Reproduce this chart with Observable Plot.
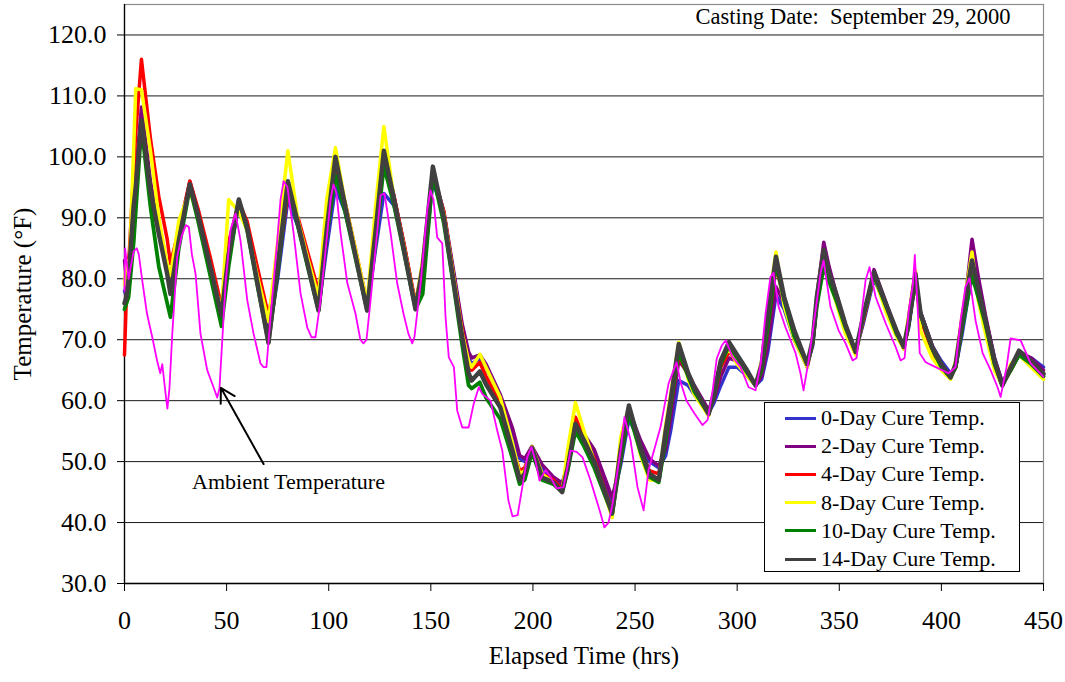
<!DOCTYPE html>
<html>
<head>
<meta charset="utf-8">
<script src="https://cdn.jsdelivr.net/npm/d3@7"></script>
<script src="https://cdn.jsdelivr.net/npm/@observablehq/plot@0.6"></script>
<style>
  body { margin: 0; background: #fff; }
  #wrap { position: relative; width: 1065px; height: 682px; font-family: "Liberation Serif", "Times New Roman", serif; color: #000; }
  #legend { position: absolute; left: 764px; top: 402px; width: 256px; height: 170px; border: 1px solid #000; background: #fff; box-sizing: border-box; padding-top: 1px; }
  .row { display: flex; align-items: center; height: 28.2px; font-size: 22px; white-space: nowrap; }
  .sw { width: 31px; height: 3px; margin-left: 20px; margin-right: 5px; }
</style>
</head>
<body>
<div id="wrap"><div id="legend"></div></div>
<script>
// ---- Data ----
const hours = [
  0, 1, 2, 4.5, 5.5, 8.3, 12.7, 16.8, 20.9, 22.5,
  26.6, 32, 36, 42, 47.5, 51, 56, 60, 65, 70.5,
  75, 80, 85, 90, 95, 99, 103.3, 108, 113, 118.8,
  123, 127, 132, 137, 142.5, 146, 151, 156.4, 161.3, 165.4,
  168.5, 170, 174, 177, 184, 190, 193.5, 196, 199.5, 204.5,
  210, 214.3, 217, 220.8, 225, 230, 238.8, 243, 247, 252.7,
  257, 261.6, 265, 267.4, 271.4, 276, 279, 286, 288.5, 292,
  296, 300, 305, 309, 312, 315, 319, 323, 328, 334.3,
  337, 339, 342.4, 345, 349, 353, 358, 362, 367, 373.5,
  378, 381.6, 384, 387.3, 389.8, 395.5, 400, 404.5, 407, 410.2,
  415, 418, 421.6, 426, 429.8, 434, 438, 444, 450
];
const cure0 = [
  78, 77, 79, 90, 95, 106, 95, 88, 81, 78.5,
  86, 95.5, 91, 82.5, 74.5, 83, 92.5, 88.5, 80, 70.5,
  80, 93, 88.5, 82, 75, 85, 95, 91, 84, 75,
  85, 94, 92, 85, 75.5, 80, 96, 90.5, 80.5, 72,
  67, 66, 67, 65.5, 60.5, 54.5, 50.5, 50, 52, 49,
  47, 46, 49, 56, 54, 51.5, 43.5, 49.5, 57, 53,
  50, 49, 51, 55, 63.3, 62.5, 61, 58, 59.5, 62.5,
  65.5, 65.5, 64, 62.5, 63.5, 68, 77.3, 75, 70, 66,
  69, 76, 83.5, 80.5, 76.5, 72, 68, 73, 80, 75,
  71.5, 69, 72, 79.5, 74.5, 69, 66.5, 64.5, 65.5, 71,
  81, 78, 73.5, 67, 63, 65, 67.5, 67, 65.5
];
const cure2 = [
  83, 80, 82, 93, 97, 108.2, 96, 88.5, 81.5, 79,
  87, 96, 91, 82.5, 74.5, 83, 92.5, 88.5, 80, 70.5,
  81, 95.5, 89.5, 82.5, 75, 87, 99, 92.5, 84.5, 75,
  87, 100.5, 93.5, 85.5, 75.5, 81, 97.5, 91, 81, 72.5,
  68, 67, 67.5, 66, 61, 55.5, 51, 50.5, 52.5, 49.5,
  47.5, 46.5, 49.5, 56.5, 54.5, 52, 44.1, 50, 58.5, 53.5,
  50.5, 49.3, 52, 57, 66.6, 64.5, 62.5, 58.5, 60, 64,
  67, 66.5, 64.5, 62.5, 64, 69, 78.7, 76, 70, 65.5,
  69.5, 77, 86, 82, 77, 72.5, 68, 73.5, 81.5, 75.5,
  71.5, 68.8, 72.5, 80, 74.5, 69, 66, 64, 65.5, 72,
  86.5, 80.5, 74, 67, 63, 65.5, 68, 67, 65
];
const cure4 = [
  67.5, 78, 82, 98, 104, 116, 103, 93.5, 86.5, 82.5,
  88, 96, 91.5, 83.5, 75.5, 86, 92.5, 89.5, 82, 74,
  82, 94, 90, 84, 78, 87, 97.8, 92.5, 85, 76,
  87, 100, 93.5, 85.5, 76, 82, 97, 91, 80, 71.5,
  66, 65, 66.3, 64, 59.5, 52.5, 48.5, 49, 52, 48,
  47, 45.5, 50, 57.3, 54, 50.5, 42, 51, 58, 52,
  48.5, 48, 54, 59, 67.5, 64, 61.5, 58, 60.5, 65.5,
  68, 66.5, 64.5, 62.5, 65, 72, 82, 76.5, 71, 66,
  69.5, 76, 84, 80.5, 76, 72, 68, 73.5, 80.5, 74.5,
  71, 68.5, 72.5, 80, 73.5, 68, 65.5, 63.8, 65.5, 72.5,
  81.5, 77.5, 72.5, 66, 62.5, 65, 67.5, 66, 64
];
const cure8 = [
  79, 83, 78, 101.6, 111.2, 111, 101, 90, 82.5, 80.5,
  89.5, 94.5, 90, 82, 74.5, 93, 91, 88, 80.5, 73,
  86, 101, 89.5, 83, 77, 93, 101.5, 92.5, 85, 76,
  92, 105, 93, 85, 75.5, 83, 97.5, 90.5, 80, 71,
  66.5, 65.5, 67.6, 65.5, 60.5, 53, 48, 48.5, 52.5, 48,
  46.5, 45, 52, 59.7, 55, 50, 40.8, 54, 59, 51,
  47, 47, 56, 61, 69.6, 63.5, 61, 57.5, 61.5, 66.5,
  68.5, 66, 64, 62.5, 66.5, 75, 84.4, 75.5, 70, 65.5,
  70, 77, 84.7, 80, 75.5, 71, 67.5, 74, 80.5, 74,
  70.5, 68.5, 74, 81.4, 71.5, 67, 65, 63.5, 66.5, 74,
  84.4, 76.5, 71, 65, 62.5, 66, 67.5, 65.5, 63.5
];
const cure10 = [
  75, 76, 77, 86, 91, 105, 91.8, 82, 76, 73.7,
  85, 95, 89.5, 80.5, 72.2, 82, 93, 88, 79, 69.5,
  81, 95.5, 88.5, 81.5, 74.8, 87, 97, 91, 83.5, 74.8,
  86, 98.5, 92, 84, 75, 77.5, 97, 89, 78.5, 69,
  62.5, 62, 63, 60.5, 57, 50.5, 46.3, 47, 51.5, 47,
  46.3, 45, 48.5, 55, 52.5, 49, 41.4, 50.5, 58, 51.5,
  47.5, 46.6, 53.5, 59, 68, 64, 61.5, 57.8, 60.5, 66,
  69, 67, 64.5, 62.5, 65, 72, 82.5, 76.5, 70.5, 66,
  69.5, 75.5, 82, 79.5, 76, 72, 68, 74, 80.5, 75,
  71, 68.8, 72.5, 80, 74, 68.5, 65.5, 63.8, 65.5, 72,
  80.5, 77, 72.5, 66, 62.5, 65, 67.5, 66, 64
];
const cure14 = [
  76, 77, 80, 92, 95, 106, 94.5, 87.4, 80.8, 77.5,
  86.3, 95.5, 90.5, 82, 74, 84, 93, 88.5, 79.5, 69.5,
  82, 96, 89, 82, 74.8, 88, 100, 92, 84, 74.8,
  88, 101, 93, 84.5, 75, 82, 98.4, 90, 79.2, 70.4,
  64.5, 63.3, 64.8, 62.7, 58.9, 51.8, 47, 48, 52.3, 47.4,
  46.6, 45, 49, 56.2, 53.5, 50, 41.6, 52, 59.2, 52.3,
  48, 47, 55, 60, 69.3, 64.5, 62.2, 57.8, 61, 66.6,
  69.6, 67.5, 64.9, 62.5, 66, 74, 83.6, 77, 71.5, 66,
  70, 77, 84.7, 81, 77, 72.5, 68, 74.3, 81.1, 75.3,
  71.5, 68.8, 73, 80.8, 74.3, 68.8, 66, 63.8, 66, 73.2,
  83, 78.5, 73.2, 66.5, 62.5, 65.5, 68.2, 66.5, 64.4
];
const ambientHours = [
  0, 0.3, 2, 4.5, 6, 7, 8.7, 11, 13.6, 16, 17.5, 18.5, 20, 21, 22, 23.4, 25.8, 28, 30, 31.5,
  33, 34.8, 37.2, 40.5, 43.6, 45.4, 46.5, 49.5, 51.9, 54.4, 56.8, 60.1, 63.2, 66.6, 68.1, 69.5, 71.5, 74.8, 76.4, 77.9,
  79.8, 82.8, 86.2, 89.5, 91.6, 93.5, 96, 99.3, 100.9, 102.3, 103.8, 105.8, 109.1, 113.1, 115.5, 117, 118.5, 120.5, 123.7, 125.4,
  127.3, 130.3, 133.5, 136.6, 139, 140.9, 142, 145, 148.2, 149.8, 151.3, 153.1, 155.6, 157.2, 158.8, 161.3, 162.9, 165.4, 168.5, 171,
  173.5, 175.2, 179.2, 182.5, 185, 188, 190, 192.5, 197.2, 199.3, 201.3, 203.2, 206.2, 208.6, 211.5, 215, 218.4, 221.4, 224.3, 228.2,
  233.1, 235, 237, 239, 242.9, 244.8, 247.8, 251.2, 254.2, 256.6, 262.5, 266.4, 270.3, 272.3, 275.2, 279.1, 283, 285.5, 288, 290,
  292.4, 294.4, 297.7, 301.7, 305.6, 309, 311.5, 313.9, 316.3, 317.8, 320.3, 323.7, 328.6, 331, 332.5, 335, 338.4, 340.8, 342.3, 345.7,
  349.7, 353.1, 356.5, 358.5, 360.4, 362.9, 364.8, 367.8, 372.7, 377.6, 380, 382, 384, 386, 387, 388.5, 389.4, 392.3, 397.2, 403.5,
  406.9, 409.4, 411.8, 413.8, 416.7, 420.2, 424.1, 427.5, 429, 431.9, 433.9, 438.8, 443.7, 450
];
const ambientTemp = [
  78, 85, 80, 84.5, 85, 84, 79.7, 74.3, 70.4, 66.5, 64.5, 66, 61.5, 58.7, 62, 71, 83.6, 87, 88.8, 88.5,
  84, 80.8, 71, 65, 62.2, 60.5, 62, 79.3, 88, 90.7, 86.3, 76.5, 71, 66.1, 65.5, 65.5, 73.7, 86.3, 93, 96,
  95, 87.5, 77.6, 72, 70.4, 70.4, 76.5, 87.5, 93, 95.5, 94, 87.5, 79.3, 74.3, 70, 69.4, 70, 76.5, 87.5, 93.7,
  94, 87.5, 79.3, 74.3, 71, 69.4, 70.5, 79.3, 91.2, 94.5, 93, 86.8, 85.8, 73.7, 67.1, 65.5, 58.4, 55.6, 55.6, 59.5,
  62.2, 61.1, 60, 55.1, 51.8, 43.6, 41, 41.2, 50.7, 52.4, 50, 46.9, 48.6, 47.5, 45.6, 45.8, 51.8, 51.6, 50.7, 46.9,
  41.5, 39.2, 40, 43.1, 51.8, 57.3, 53.5, 45.8, 42, 48.6, 55.7, 62.8, 66.3, 63, 60, 57.9, 56, 56.8, 61.7, 66.9,
  69, 69.9, 67.2, 65.5, 62.2, 61.7, 66, 74.3, 80.3, 81, 75.4, 72, 67.8, 64.5, 61.7, 66.6, 74.8, 80.9, 83, 75.4,
  71.5, 69.4, 66.6, 67, 72.7, 79.8, 81.9, 77, 72.7, 68.8, 66.6, 67, 74.8, 79, 83.9, 74.3, 67.8, 66.3, 65.5, 64.5,
  65.5, 73.2, 78.7, 80.1, 73.2, 67.8, 65, 62.2, 60.6, 65.5, 70.2, 69.9, 66.1, 63.9
];
const seriesNames = ["0-Day Cure Temp.", "2-Day Cure Temp.", "4-Day Cure Temp.", "8-Day Cure Temp.", "10-Day Cure Temp.", "14-Day Cure Temp."];
const seriesValues = [cure0, cure2, cure4, cure8, cure10, cure14];
const seriesColors = ["#3333cc", "#800080", "#ff0000", "#ffff00", "#008000", "#404040"];
const ambientColor = "#ff00ff";
const xTicks = [0, 50, 100, 150, 200, 250, 300, 350, 400, 450];
const yTicks = [30, 40, 50, 60, 70, 80, 90, 100, 110, 120];
const annotationText = ["Ambient Temperature"];
const annotationTextAt = [80.3, 46.7];      // hours, °F
const annotationArrow = [[68.1, 49.6, 47.2, 62.1]]; // from (h,°F) to (h,°F)
const castingNote = "Casting Date:  September 29, 2000";

// ---- Build tables ----
const cureRows = seriesNames.map((name, k) =>
  hours.map((h, i) => ({hours: h, temp: seriesValues[k][i], series: name}))
       .filter(d => d.temp !== undefined));
const ambientRows = ambientHours.map((h, i) => ({hours: h, temp: ambientTemp[i]})).filter(d => d.temp !== undefined);

const font = "Liberation Serif, Times New Roman, serif";
const cureWidths = [3.5, 3.5, 3.5, 3.5, 3.8, 4.5];

const chart = Plot.plot({
  width: 1065,
  height: 682,
  marginLeft: 124,
  marginRight: 22,
  marginTop: 4,
  marginBottom: 99,
  style: {fontFamily: font, fontSize: "24px", color: "#000", background: "#fff", overflow: "visible"},
  x: {domain: [0, 450]},
  y: {domain: [30, 125]},
  marks: [
    Plot.gridY(yTicks.slice(1), {stroke: "#1a1a1a", strokeOpacity: 1, strokeWidth: 1}),
    Plot.frame({stroke: "#8c8c8c", strokeWidth: 1.2}),
    Plot.axisY({ticks: yTicks, tickFormat: d => d.toFixed(1), tickSize: 7, tickPadding: 11, fontSize: 26, label: null, stroke: "#000"}),
    Plot.axisX({ticks: xTicks, tickFormat: d => String(d), tickSize: 8, tickPadding: 19, fontSize: 26, label: null, stroke: "#000"}),
    Plot.ruleX([0], {stroke: "#000", strokeWidth: 1.3}),
    Plot.ruleY([30], {stroke: "#000", strokeWidth: 1.3}),
    ...cureRows.map((rows, k) => Plot.line(rows, {x: "hours", y: "temp", stroke: seriesColors[k], strokeWidth: cureWidths[k], strokeLinejoin: "round"})),
    Plot.line(ambientRows, {x: "hours", y: "temp", stroke: ambientColor, strokeWidth: 1.8}),
    Plot.arrow(annotationArrow, {x1: d => d[0], y1: d => d[1], x2: d => d[2], y2: d => d[3], stroke: "#000", strokeWidth: 2, headLength: 12}),
    Plot.text(annotationText, {x: annotationTextAt[0], y: annotationTextAt[1], fontSize: 22, fill: "#000"}),
    Plot.text([castingNote], {frameAnchor: "top-right", dx: -33, dy: 4, lineAnchor: "top", textAnchor: "end", fontSize: 22.5, fill: "#000"}),
    Plot.text(["Elapsed Time (hrs)"], {frameAnchor: "bottom", dy: 80, fontSize: 25, fill: "#000"}),
    Plot.text(["Temperature (°F)"], {frameAnchor: "left", dx: -102, rotate: -90, textAnchor: "middle", fontSize: 25, fill: "#000"})
  ]
});
document.getElementById("wrap").prepend(chart);

// ---- Legend (HTML, inside the plot area) ----
const legend = document.getElementById("legend");
seriesNames.forEach((name, k) => {
  const row = document.createElement("div");
  row.className = "row";
  const sw = document.createElement("span");
  sw.className = "sw";
  sw.style.background = seriesColors[k];
  const label = document.createElement("span");
  label.textContent = name;
  row.append(sw, label);
  legend.append(row);
});
</script>
</body>
</html>
